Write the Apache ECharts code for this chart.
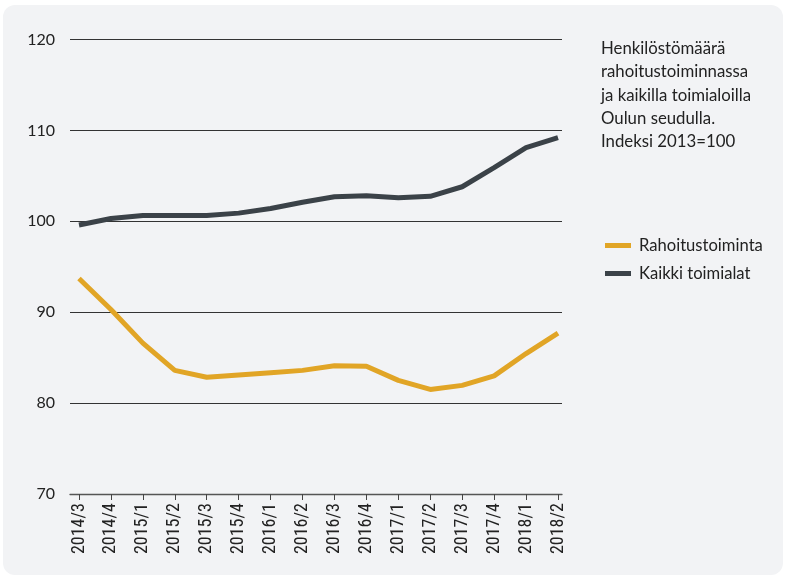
<!DOCTYPE html>
<html>
<head>
<meta charset="utf-8">
<script src="https://cdn.jsdelivr.net/npm/echarts@6/dist/echarts.min.js"></script>
<style>
  html, body { margin: 0; padding: 0; background: #ffffff; }
  #chart { width: 788px; height: 577px; }
</style>
</head>
<body>
<div id="chart"></div>
<script>
// Quarters shown on the x axis
const quarters = ['2014/3', '2014/4', '2015/1', '2015/2', '2015/3', '2015/4', '2016/1', '2016/2',
                  '2016/3', '2016/4', '2017/1', '2017/2', '2017/3', '2017/4', '2018/1', '2018/2'];

// Personnel index, 2013 = 100
const rahoitustoiminta = [93.7, 90.3, 86.6, 83.6, 82.85, 83.1, 83.35, 83.6,
                          84.1, 84.05, 82.5, 81.5, 81.95, 83.0, 85.45, 87.7];
const kaikkiToimialat  = [99.6, 100.3, 100.65, 100.65, 100.65, 100.9, 101.4, 102.1,
                          102.7, 102.8, 102.6, 102.75, 103.8, 105.9, 108.1, 109.2];

const yTicks = [70, 80, 90, 100, 110, 120];

const seriesNames = ['Rahoitustoiminta', 'Kaikki toimialat'];
const seriesColors = ['#e1a526', '#3b4248'];

const titleLines = ['Henkilöstömäärä', 'rahoitustoiminnassa', 'ja kaikilla toimialoilla',
                    'Oulun seudulla.', 'Indeksi 2013=100'];

const chart = echarts.init(document.getElementById('chart'), null, { renderer: 'canvas' });

const textColor = '#222222';
const plotTop = 39.5;
const plotBottom = 83;

chart.setOption({
  backgroundColor: 'transparent',
  animation: false,
  graphic: [
    {
      type: 'rect',
      shape: { x: 3, y: 5, width: 780, height: 570, r: 12 },
      style: { fill: '#f2f3f5' },
      z: -10
    },
    {
      type: 'text',
      left: 601,
      top: 37,
      style: {
        text: titleLines.join('\n'),
        font: '16.8px Lato, "Noto Sans", sans-serif',
        lineHeight: 23.3,
        fill: textColor
      }
    }
  ],
  legend: {
    orient: 'vertical',
    left: 600,
    top: 232,
    itemWidth: 26,
    itemHeight: 5,
    itemGap: 11,
    icon: 'rect',
    textStyle: { fontSize: 16.6, fontFamily: 'Lato, "Noto Sans", sans-serif', color: textColor, padding: [0, 0, 0, 3] },
    data: seriesNames
  },
  grid: [
    // data grid: category points sit inside the gridline span
    { left: 79, right: 230, top: plotTop, bottom: plotBottom },
    // gridline grid: slightly wider than the data span
    { left: 70, right: 226, top: plotTop, bottom: plotBottom }
  ],
  xAxis: [
    {
      type: 'category',
      gridIndex: 0,
      data: quarters,
      boundaryGap: false,
      axisLine: { show: false },
      axisTick: { show: true, length: 6, lineStyle: { color: '#444', width: 1 }, alignWithLabel: true },
      axisLabel: {
        rotate: 90,
        interval: 0,
        margin: 9,
        fontSize: 18,
        fontFamily: '"Liberation Sans Narrow", "Roboto Condensed", Roboto, sans-serif',
        color: textColor
      },
      splitLine: { show: false }
    },
    {
      type: 'value',
      gridIndex: 1,
      min: 0,
      max: 1,
      show: true,
      axisLine: { show: true, lineStyle: { color: '#555', width: 1.3 } },
      axisTick: { show: false },
      axisLabel: { show: false },
      splitLine: { show: false }
    }
  ],
  yAxis: [
    {
      type: 'value',
      gridIndex: 0,
      min: 70,
      max: 120,
      interval: 10,
      show: false
    },
    {
      type: 'value',
      gridIndex: 1,
      min: yTicks[0],
      max: yTicks[yTicks.length - 1],
      interval: 10,
      axisLine: { show: false },
      axisTick: { show: false },
      axisLabel: {
        margin: 15,
        fontSize: 16,
        fontFamily: 'Lato, "Noto Sans", sans-serif',
        color: textColor
      },
      splitLine: { show: true, lineStyle: { color: '#333', width: 1 } }
    }
  ],
  series: seriesNames.map((name, i) => ({
    name: name,
    type: 'line',
    xAxisIndex: 0,
    yAxisIndex: 0,
    data: i === 0 ? rahoitustoiminta : kaikkiToimialat,
    symbol: 'none',
    lineStyle: { color: seriesColors[i], width: 5 },
    itemStyle: { color: seriesColors[i] },
    z: 5
  }))
});
</script>
</body>
</html>
